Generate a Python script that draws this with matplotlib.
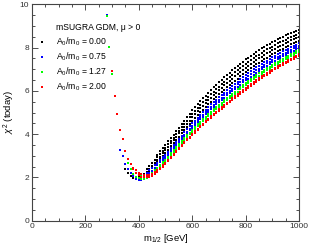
import numpy as np
import matplotlib
matplotlib.use("Agg")
import matplotlib.pyplot as plt
from matplotlib.ticker import MultipleLocator

plt.rcParams["font.family"] = ["Liberation Sans", "DejaVu Sans"]
plt.rcParams["mathtext.fontset"] = "custom"
plt.rcParams["mathtext.rm"] = "Liberation Sans"
plt.rcParams["mathtext.it"] = "Liberation Sans:italic"
plt.rcParams["mathtext.bf"] = "Liberation Sans:bold"

# m_1/2 step between scan points (GeV)
STEP = 10

# A0/m0 = 0.00 (black): (first m_1/2, chi^2 values)
k1_x0 = 350
k1_y = [2.40, 2.20, 2.06, 1.97, 1.93, 1.93, 1.98, 2.07, 2.17, 2.29, 2.42, 2.56, 2.70, 2.85, 2.99,
        3.13, 3.28, 3.44, 3.59, 3.74, 3.89, 4.03, 4.18, 4.33, 4.47,
        4.61, 4.75, 4.88, 5.01, 5.13, 5.26, 5.38, 5.50, 5.61, 5.73,
        5.84, 5.95, 6.05, 6.16, 6.26, 6.37, 6.47, 6.57, 6.67, 6.77,
        6.86, 6.95, 7.04, 7.13, 7.22, 7.30, 7.38, 7.46, 7.54, 7.61,
        7.69, 7.76, 7.83, 7.89, 7.95, 8.01, 8.08, 8.15, 8.21, 8.26, 8.32]
k2_x0 = 400
k2_y = [2.06, 2.10, 2.17, 2.27, 2.39, 2.52, 2.66, 2.81, 2.96, 3.11,
        3.26, 3.41, 3.57, 3.72, 3.88, 4.03, 4.18, 4.33, 4.49, 4.63,
        4.78, 4.92, 5.05, 5.19, 5.31, 5.44, 5.56, 5.69, 5.80, 5.92,
        6.03, 6.14, 6.25, 6.36, 6.46, 6.57, 6.67, 6.77, 6.87, 6.97,
        7.06, 7.15, 7.24, 7.33, 7.42, 7.50, 7.58, 7.66, 7.74, 7.81,
        7.88, 7.95, 8.02, 8.08, 8.14, 8.20, 8.27, 8.33, 8.39, 8.44, 8.50]
k3_x0 = 430
k3_y = [2.40, 2.53, 2.67, 2.81, 2.95, 3.09, 3.23,
        3.37, 3.53, 3.69, 3.84, 4.00, 4.16, 4.31, 4.47, 4.63, 4.77,
        4.93, 5.07, 5.20, 5.35, 5.47, 5.60, 5.72, 5.86, 5.97, 6.09,
        6.20, 6.31, 6.43, 6.54, 6.64, 6.75, 6.85, 6.95, 7.05, 7.15,
        7.24, 7.33, 7.42, 7.51, 7.60, 7.68, 7.76, 7.84, 7.92, 7.99,
        8.05, 8.12, 8.19, 8.25, 8.31, 8.37, 8.44, 8.50, 8.55, 8.60, 8.66]
k4_x0 = 470
k4_y = [3.05, 3.20, 3.35,
        3.50, 3.66, 3.82, 3.98, 4.14, 4.30, 4.46, 4.62, 4.78, 4.94,
        5.10, 5.24, 5.38, 5.52, 5.65, 5.78, 5.91, 6.04, 6.16, 6.28,
        6.40, 6.51, 6.62, 6.73, 6.84, 6.95, 7.05, 7.15, 7.25, 7.35,
        7.45, 7.54, 7.63, 7.72, 7.80, 7.88, 7.96, 8.04, 8.11, 8.18,
        8.25, 8.32, 8.38, 8.44, 8.50, 8.56, 8.62, 8.68, 8.73, 8.78, 8.83]

# A0/m0 = 0.75 (blue)
b_branch_x = [280]
b_branch_y = [9.52]
b1_x0 = 330
b1_y = [3.27, 3.00, 2.63, 2.40, 2.22, 2.06, 1.93,
        1.88, 1.90, 1.95, 2.02, 2.10, 2.20, 2.32, 2.45, 2.59, 2.74,
        2.89, 3.04, 3.19, 3.33, 3.48, 3.62, 3.76, 3.90, 4.04, 4.17,
        4.30, 4.43, 4.55, 4.68, 4.80, 4.92, 5.03, 5.15, 5.26, 5.37,
        5.47, 5.58, 5.68, 5.79, 5.89, 5.99, 6.09, 6.19, 6.29, 6.39,
        6.48, 6.57, 6.66, 6.75, 6.84, 6.93, 7.01, 7.09, 7.17, 7.24,
        7.32, 7.39, 7.46, 7.53, 7.59, 7.66, 7.73, 7.80, 7.86, 7.92, 7.99]
b2_x0 = 380
b2_y = [2.15, 2.02, 1.96, 1.96, 2.01, 2.09, 2.19, 2.31, 2.44, 2.57, 2.70, 2.83,
        2.96, 3.11, 3.26, 3.41, 3.56, 3.70, 3.84, 3.98, 4.12, 4.25,
        4.39, 4.52, 4.65, 4.78, 4.90, 5.02, 5.13, 5.25, 5.36, 5.47,
        5.58, 5.68, 5.79, 5.89, 5.99, 6.10, 6.20, 6.30, 6.40, 6.50,
        6.59, 6.68, 6.77, 6.86, 6.95, 7.03, 7.11, 7.19, 7.27, 7.35,
        7.42, 7.50, 7.57, 7.63, 7.70, 7.76, 7.83, 7.90, 7.96, 8.02, 8.09]
b3_x0 = 410
b3_y = [2.05, 2.12, 2.21, 2.32, 2.44, 2.56, 2.68, 2.81, 2.93,
        3.05, 3.19, 3.35, 3.49, 3.65, 3.79, 3.93, 4.08, 4.22, 4.36,
        4.50, 4.63, 4.76, 4.89, 5.01, 5.13, 5.25, 5.37, 5.48, 5.60,
        5.70, 5.81, 5.92, 6.02, 6.12, 6.23, 6.33, 6.43, 6.53, 6.63,
        6.72, 6.81, 6.90, 6.99, 7.08, 7.16, 7.24, 7.32, 7.40, 7.48,
        7.55, 7.62, 7.69, 7.76, 7.82, 7.88, 7.95, 8.02, 8.08, 8.14, 8.20]

# A0/m0 = 1.27 (green)
g_branch_x = [280, 290, 300]
g_branch_y = [9.44, 8.04, 6.78]
g1_x0 = 360
g1_y = [2.65, 2.37, 2.18, 2.04,
        1.96, 1.93, 1.94, 1.99, 2.06, 2.15, 2.26, 2.37, 2.50, 2.63,
        2.76, 2.90, 3.04, 3.18, 3.33, 3.46, 3.60, 3.73, 3.87, 3.99,
        4.12, 4.24, 4.36, 4.49, 4.61, 4.72, 4.83, 4.95, 5.06, 5.16,
        5.26, 5.36, 5.47, 5.57, 5.67, 5.77, 5.87, 5.97, 6.07, 6.17,
        6.26, 6.35, 6.44, 6.53, 6.62, 6.71, 6.79, 6.87, 6.95, 7.03,
        7.10, 7.18, 7.25, 7.32, 7.39, 7.46, 7.53, 7.60, 7.67, 7.73, 7.80]
g2_x0 = 390
g2_y = [2.22, 2.12, 2.06, 2.04, 2.06, 2.12, 2.21, 2.32, 2.43, 2.56, 2.69,
        2.82, 2.96, 3.11, 3.25, 3.40, 3.53, 3.67, 3.81, 3.94, 4.07,
        4.20, 4.33, 4.45, 4.57, 4.69, 4.81, 4.92, 5.04, 5.15, 5.26,
        5.36, 5.46, 5.56, 5.67, 5.77, 5.87, 5.97, 6.07, 6.17, 6.27,
        6.36, 6.45, 6.54, 6.63, 6.72, 6.81, 6.89, 6.97, 7.05, 7.12,
        7.20, 7.28, 7.35, 7.42, 7.48, 7.55, 7.62, 7.69, 7.75, 7.82, 7.88]

# A0/m0 = 2.00 (red)
r1_x0 = 300
r1_y = [6.92, 5.75, 4.92, 4.19, 3.76, 3.24, 2.85, 2.64, 2.39, 2.22,
        2.10, 2.03, 2.00, 2.00, 2.03, 2.08, 2.15, 2.25, 2.37, 2.50,
        2.63, 2.77, 2.91, 3.05, 3.19, 3.32, 3.45, 3.58, 3.71, 3.83,
        3.95, 4.07, 4.19, 4.31, 4.43, 4.54, 4.65, 4.76, 4.87, 4.97,
        5.07, 5.17, 5.27, 5.37, 5.47, 5.57, 5.67, 5.77, 5.87, 5.97,
        6.06, 6.15, 6.24, 6.33, 6.42, 6.51, 6.59, 6.67, 6.75, 6.83,
        6.91, 6.99, 7.06, 7.13, 7.20, 7.27, 7.34, 7.41, 7.48, 7.55, 7.62]
r2_x0 = 380
r2_y = [2.45, 2.32, 2.22, 2.15, 2.11, 2.10, 2.12, 2.17, 2.24, 2.33, 2.44, 2.56,
        2.68, 2.82, 2.96, 3.10, 3.24, 3.37, 3.50, 3.64, 3.77, 3.89,
        4.01, 4.13, 4.25, 4.37, 4.49, 4.61, 4.72, 4.83, 4.94, 5.04,
        5.14, 5.25, 5.35, 5.45, 5.55, 5.65, 5.75, 5.85, 5.95, 6.05,
        6.14, 6.23, 6.32, 6.41, 6.50, 6.59, 6.67, 6.75, 6.83, 6.90,
        6.98, 7.06, 7.13, 7.20, 7.27, 7.34, 7.41, 7.48, 7.55, 7.62, 7.69]

labels = ["A$_0$/m$_0$ = 0.00", "A$_0$/m$_0$ = 0.75",
          "A$_0$/m$_0$ = 1.27", "A$_0$/m$_0$ = 2.00"]
colors = ["#000000", "#0000ff", "#00ff00", "#ff0000"]

groups = [
    [(k1_x0, k1_y), (k2_x0, k2_y), (k3_x0, k3_y), (k4_x0, k4_y)],
    [(b1_x0, b1_y), (b2_x0, b2_y), (b3_x0, b3_y)],
    [(g1_x0, g1_y), (g2_x0, g2_y)],
    [(r1_x0, r1_y), (r2_x0, r2_y)],
]
branches = [None, (b_branch_x, b_branch_y), (g_branch_x, g_branch_y), None]

fig = plt.figure(figsize=(3.1, 2.45), dpi=100)
ax = fig.add_axes([0.1032, 0.0992, 0.8613, 0.8832])

ms = 2.0
for curves, br, col in zip(groups, branches, colors):
    for x0, ys in curves:
        xs = x0 + STEP * np.arange(len(ys))
        ax.plot(xs, ys, "s", ms=ms, mew=0, color=col)
    if br is not None:
        ax.plot(br[0], br[1], "s", ms=ms, mew=0, color=col)

ax.set_xlim(0, 1000)
ax.set_ylim(0, 10)
ax.xaxis.set_major_locator(MultipleLocator(200))
ax.xaxis.set_minor_locator(MultipleLocator(50))
ax.yaxis.set_major_locator(MultipleLocator(2))
ax.yaxis.set_minor_locator(MultipleLocator(0.5))
ax.tick_params(which="both", direction="in", top=True, right=True,
               labelsize=6, width=0.6, colors="#333333", pad=2)
ax.tick_params(which="major", length=4)
ax.tick_params(which="minor", length=2)
for s in ax.spines.values():
    s.set_linewidth(0.8)
    s.set_color("#444444")

ax.set_xlabel("m$_{1/2}$ [GeV]", fontsize=6.8, labelpad=1)
ax.set_ylabel("$\\chi^2$ (today)", fontsize=6.8, labelpad=2)

# legend drawn by hand to sit like the original
ax.text(0.09, 0.892, "mSUGRA GDM, \u03bc > 0", transform=ax.transAxes,
        fontsize=6.2, va="center", ha="left")
for i, (lab, col) in enumerate(zip(labels, colors)):
    yy = 0.826 - i * 0.0695
    ax.plot([0.037], [yy], "s", ms=ms, mew=0, color=col, transform=ax.transAxes)
    ax.text(0.09, yy, lab, transform=ax.transAxes, fontsize=6.2,
            va="center", ha="left")

fig.savefig("out.png", dpi=100)
